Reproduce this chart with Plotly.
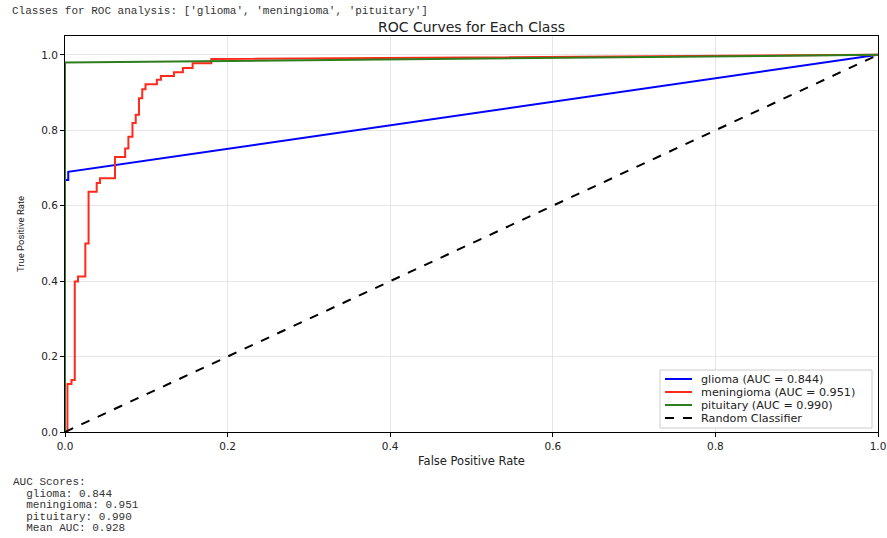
import plotly.graph_objects as go

# ROC curve points (false positive rate, true positive rate) per class
glioma_fpr = [0.0, 0.0, 0.004, 0.004, 1.0]
glioma_tpr = [0.0, 0.668, 0.668, 0.690, 1.0]

meningioma_fpr = [0.0, 0.003, 0.003, 0.008, 0.008, 0.012, 0.012, 0.016, 0.016, 0.025, 0.025,
                  0.029, 0.029, 0.039, 0.039, 0.043, 0.043, 0.0615, 0.0615, 0.074, 0.074,
                  0.078, 0.078, 0.083, 0.083, 0.087, 0.087, 0.091, 0.091, 0.095, 0.095,
                  0.099, 0.099, 0.113, 0.113, 0.118, 0.118, 0.134, 0.134, 0.145, 0.145,
                  0.157, 0.157, 0.180, 0.180, 1.0]
meningioma_tpr = [0.0, 0.0, 0.127, 0.127, 0.138, 0.138, 0.399, 0.399, 0.412, 0.412, 0.500,
                  0.500, 0.637, 0.637, 0.660, 0.660, 0.673, 0.673, 0.729, 0.729, 0.752,
                  0.752, 0.783, 0.783, 0.819, 0.819, 0.841, 0.841, 0.885, 0.885, 0.909,
                  0.909, 0.922, 0.922, 0.934, 0.934, 0.944, 0.944, 0.954, 0.954, 0.965,
                  0.965, 0.978, 0.978, 0.989, 1.0]

pituitary_fpr = [0.0, 0.0, 1.0]
pituitary_tpr = [0.0, 0.980, 1.0]

class_names = ["glioma", "meningioma", "pituitary"]
auc_scores = [0.844, 0.951, 0.990]
mean_auc = 0.928

colors = ["#0000ff", "#ff2a1a", "#2e7d1e"]
curves = [(glioma_fpr, glioma_tpr), (meningioma_fpr, meningioma_tpr), (pituitary_fpr, pituitary_tpr)]

W, H = 887, 538
L, R, T, B = 65, 9, 36, 106
PW, PH = W - L - R, H - T - B


def px(x):
    return (x - L) / PW


def py(y):
    return (H - B - y) / PH


fig = go.Figure()
legend_items = []
for name, auc, color, (fpr, tpr) in zip(class_names, auc_scores, colors, curves):
    label = f"{name} (AUC = {auc:.3f})"
    fig.add_trace(go.Scatter(x=fpr, y=tpr, mode="lines", name=label,
                             line=dict(color=color, width=2)))
    legend_items.append((label, dict(color=color, width=2)))

fig.add_trace(go.Scatter(x=[0, 1], y=[0, 1], mode="lines", name="Random Classifier",
                         line=dict(color="black", width=2, dash="dash")))
legend_items.append(("Random Classifier", dict(color="black", width=2, dash="dash")))

mono = "Liberation Mono, DejaVu Sans Mono, monospace"
axis_common = dict(
    showline=True, linecolor="black", linewidth=1, mirror=True,
    ticks="outside", ticklen=4, tickcolor="black",
    showgrid=True, gridcolor="#e6e6e6", gridwidth=1,
    zeroline=False, tickformat=".1f", dtick=0.2,
    tickfont=dict(family="DejaVu Sans", size=10.5, color="#222"),
)

fig.update_layout(
    width=W, height=H,
    margin=dict(l=L, r=R, t=T, b=B, autoexpand=False),
    paper_bgcolor="white", plot_bgcolor="white",
    showlegend=False,
    title=dict(text="ROC Curves for Each Class", x=(L + W - R) / 2 / W, xanchor="center",
               y=1 - 27 / H, yanchor="middle",
               font=dict(family="DejaVu Sans", size=14, color="#222")),
    xaxis=dict(range=[0, 1], title=dict(text="False Positive Rate", standoff=6,
               font=dict(family="DejaVu Sans", size=11.5, color="#222")), **axis_common),
    yaxis=dict(range=[0, 1.05], title=dict(text="True Positive Rate", standoff=14,
               font=dict(family="Roboto", size=9.5, color="#222")), **axis_common),
)

# Legend box drawn in paper coordinates
shapes = [dict(type="rect", xref="paper", yref="paper",
               x0=px(660), x1=px(872), y0=py(428), y1=py(370),
               line=dict(color="#cccccc", width=1), fillcolor="rgba(255,255,255,0.85)", layer="above")]
row_y = [379, 392, 405, 418]
for (label, line), ry in zip(legend_items, row_y):
    shapes.append(dict(type="line", xref="paper", yref="paper",
                       x0=px(665), x1=px(692), y0=py(ry), y1=py(ry), line=line, layer="above"))
    fig.add_annotation(text=label, xref="paper", yref="paper", x=px(699), y=py(ry),
                       xanchor="left", yanchor="middle", showarrow=False,
                       font=dict(family="DejaVu Sans", size=11.2, color="#222"))
fig.update_layout(shapes=shapes)

fig.add_annotation(
    text="Classes for ROC analysis: [" + ", ".join(f"'{c}'" for c in class_names) + "]",
    xref="paper", yref="paper", x=px(10), y=py(11),
    xanchor="left", yanchor="middle", showarrow=False,
    font=dict(family=mono, size=11, color="#333"),
)

summary_lines = ["AUC Scores:"] + [f"  {c}: {a:.3f}" for c, a in zip(class_names, auc_scores)] \
    + [f"  Mean AUC: {mean_auc:.3f}"]
for i, line in enumerate(summary_lines):
    fig.add_annotation(
        text=line.replace(" ", "&nbsp;"),
        xref="paper", yref="paper", x=px(11), y=py(482 + 11.5 * i),
        xanchor="left", yanchor="middle", showarrow=False,
        font=dict(family=mono, size=11, color="#333"),
    )

fig.write_html("out.html")
